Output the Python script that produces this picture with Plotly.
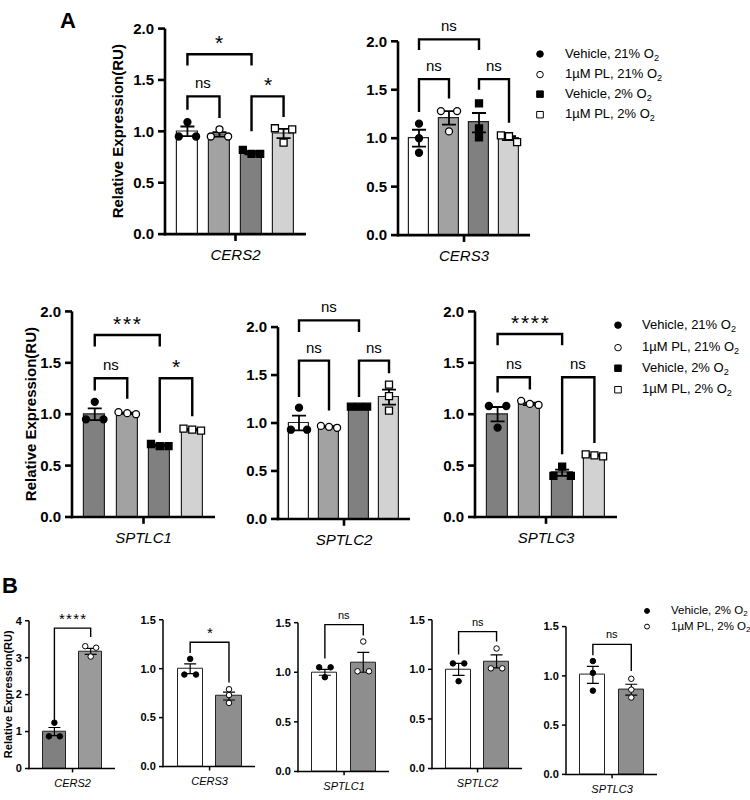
import plotly.graph_objects as go

W, H = 750, 800

# ---------------- data ----------------
a_genes = ["CERS2", "CERS3", "SPTLC1", "SPTLC2", "SPTLC3"]
a_groups = ["Vehicle, 21% O<sub>2</sub>", "1µM PL, 21% O<sub>2</sub>",
            "Vehicle, 2% O<sub>2</sub>", "1µM PL, 2% O<sub>2</sub>"]
a_means = [
    [1.00, 0.97, 0.79, 0.98],
    [1.00, 1.21, 1.16, 1.00],
    [1.00, 1.01, 0.70, 0.85],
    [1.00, 0.96, 1.17, 1.27],
    [1.00, 1.10, 0.43, 0.60],
]
a_sems = [
    [0.047, 0.022, 0.014, 0.045],
    [0.087, 0.070, 0.100, 0.020],
    [0.057, 0.006, 0.007, 0.006],
    [0.077, 0.006, 0.003, 0.078],
    [0.070, 0.012, 0.030, 0.006],
]
a_points = [
    [[1.09, 0.95, 0.95], [1.02, 0.95, 0.95], [0.82, 0.78, 0.78], [1.03, 1.02, 0.89]],
    [[1.15, 1.00, 0.85], [1.28, 1.28, 1.07], [1.36, 1.10, 1.01], [1.03, 1.02, 0.96]],
    [[1.12, 0.95, 0.95], [1.02, 1.01, 1.00], [0.71, 0.69, 0.69], [0.86, 0.85, 0.84]],
    [[1.16, 0.93, 0.93], [0.97, 0.96, 0.95], [1.17, 1.17, 1.17], [1.40, 1.28, 1.13]],
    [[1.08, 1.08, 0.87], [1.13, 1.10, 1.09], [0.49, 0.40, 0.40], [0.61, 0.60, 0.59]],
]
# (group i, group j, bracket height, label, left leg end, right leg end)
a_brackets = [
    [(0, 2, 1.75, "*", 1.64, 1.64), (0, 1, 1.34, "ns", 1.21, 1.13), (2, 3, 1.34, "*", 1.00, 1.14)],
    [(0, 2, 2.02, "ns", 1.91, 1.91), (0, 1, 1.61, "ns", 1.27, 1.41), (2, 3, 1.61, "ns", 1.50, 1.16)],
    [(0, 2, 1.77, "***", 1.66, 1.66), (0, 1, 1.35, "ns", 1.23, 1.15), (2, 3, 1.35, "*", 0.82, 0.98)],
    [(0, 2, 2.07, "ns", 1.95, 1.95), (0, 1, 1.65, "ns", 1.27, 1.13), (2, 3, 1.65, "ns", 1.27, 1.52)],
    [(0, 2, 1.78, "****", 1.67, 1.67), (0, 1, 1.36, "ns", 1.21, 1.24), (2, 3, 1.36, "ns", 0.61, 0.72)],
]

b_genes = ["CERS2", "CERS3", "SPTLC1", "SPTLC2", "SPTLC3"]
b_groups = ["Vehicle, 2% O<sub>2</sub>", "1µM PL, 2% O<sub>2</sub>"]
b_means = [[1.00, 3.17], [1.00, 0.72], [1.00, 1.10], [1.00, 1.08], [1.01, 0.86]]
b_sems = [[0.11, 0.08], [0.05, 0.04], [0.03, 0.10], [0.06, 0.065], [0.087, 0.055]]
b_points = [
    [[1.24, 0.87, 0.87], [3.31, 3.27, 3.03]],
    [[1.10, 0.94, 0.94], [0.79, 0.73, 0.65]],
    [[1.05, 1.05, 0.95], [1.31, 1.01, 1.01]],
    [[1.06, 1.06, 0.88], [1.21, 1.01, 1.01]],
    [[1.15, 1.03, 0.85], [0.97, 0.86, 0.78]],
]
b_brackets = [
    [(0, 1, 3.80, "****", 1.31, 3.56)],
    [(0, 1, 1.27, "*", 1.16, 0.86)],
    [(0, 1, 1.48, "ns", 1.14, 1.37)],
    [(0, 1, 1.38, "ns", 1.15, 1.28)],
    [(0, 1, 1.32, "ns", 1.21, 1.05)],
]
b_ymax = [4, 1.5, 1.5, 1.5, 1.5]
b_yticks = [[0, 1, 2, 3, 4], [0, 0.5, 1.0, 1.5], [0, 0.5, 1.0, 1.5], [0, 0.5, 1.0, 1.5], [0, 0.5, 1.0, 1.5]]

# ---------------- layout / style ----------------
WHITE, MID, DARK, LIGHT, MIDB = "#ffffff", "#a2a2a2", "#808080", "#d2d2d2", "#8e8e8e"
a_colors = [[WHITE, MID, DARK, LIGHT], [WHITE, MID, DARK, LIGHT], [DARK, MID, DARK, LIGHT],
            [WHITE, MID, DARK, LIGHT], [DARK, MID, DARK, LIGHT]]
b_colors = [[DARK, "#9a9a9a"], [WHITE, MIDB], [WHITE, MIDB], [WHITE, MIDB], [WHITE, MIDB]]
a_symbols = [("circle", "black"), ("circle", "white"), ("square", "black"), ("square", "white")]
b_symbols = [("circle", "black"), ("circle", "white")]

# pixel boxes: (left, right, bottom(y=0), top(y=max))
a_boxes = [(165, 306, 230, 20), (398, 530, 231, 33), (72, 215, 519, 309),
           (278, 410, 521, 325), (475, 617, 519, 309)]
b_boxes = [(29, 115, 776, 625), (163, 255, 774, 624), (298, 389, 779, 627),
           (432, 522, 776, 624), (566, 657, 782, 631)]

FONT = "Liberation Sans, Arial, sans-serif"
fig = go.Figure()
shapes, annotations = [], []


def offsets(vals, thr, step):
    order = sorted(range(len(vals)), key=lambda i: -vals[i])
    clusters, cur = [], [order[0]]
    for i in order[1:]:
        if abs(vals[cur[-1]] - vals[i]) < thr:
            cur.append(i)
        else:
            clusters.append(cur)
            cur = [i]
    clusters.append(cur)
    off = [0.0] * len(vals)
    for c in clusters:
        k = len(c)
        for r, i in enumerate(c):
            off[i] = (r - (k - 1) / 2) * step * (2 if k == 2 else 1)
    return off


def line(xa, ya, xb, yb, w):
    shapes.append(dict(type="line", xref="paper", yref="paper", x0=xa / W, x1=xb / W,
                       y0=1 - ya / H, y1=1 - yb / H, line=dict(color="black", width=w)))


def add_panel(k, box, gene, means, sems, pts, brackets, colors, symbols, ymax, yticks,
              big):
    n = len(means)
    xr = [-0.7, n - 1 + 0.67] if not big else [-0.7, n - 1 + 0.7]
    xn = "x" if k == 1 else f"x{k}"
    yn = "y" if k == 1 else f"y{k}"
    lw = 2.6 if big else 1.5
    tl = 7 if big else 4
    tick_fs = 15 if big else 11
    fmt = (lambda v: f"{v:.1f}") if ymax <= 2 else (lambda v: f"{v:g}")
    x0, x1, yb, yt = box
    fig.update_layout(**{
        ("xaxis" if k == 1 else f"xaxis{k}"): dict(
            domain=[x0 / W, x1 / W], range=xr, anchor=yn, showline=False,
            ticks="outside", ticklen=tl, tickcolor="rgba(0,0,0,0)",
            tickvals=[(n - 1) / 2], ticktext=[f"<i>{gene}</i>"],
            tickfont=dict(size=tick_fs, color="black"), showgrid=False, zeroline=False,
            fixedrange=True),
        ("yaxis" if k == 1 else f"yaxis{k}"): dict(
            domain=[1 - yb / H, 1 - yt / H], range=[0, ymax], anchor=xn, showline=False,
            ticks="outside", ticklen=tl, tickcolor="rgba(0,0,0,0)", tickvals=yticks,
            ticktext=[f"<b>{fmt(v)}</b>" for v in yticks],
            tickfont=dict(size=tick_fs, color="black"), showgrid=False, zeroline=False,
            fixedrange=True),
    })
    fig.add_trace(go.Bar(
        x=list(range(n)), y=means, width=0.65, xaxis=xn, yaxis=yn,
        marker=dict(color=colors, line=dict(color="#222222", width=1.2 if big else 1)),
        error_y=dict(type="data", array=sems, color="black",
                     thickness=1.8 if big else 1.2, width=7 if big else 6),
        showlegend=False, hoverinfo="skip"))
    thr = ymax * 0.035
    step = 0.27 if big else 0.15
    for g in range(n):
        off = offsets(pts[g], thr, step)
        sym, col = symbols[g]
        fig.add_trace(go.Scatter(
            x=[g + o for o in off], y=pts[g], mode="markers", xaxis=xn, yaxis=yn,
            marker=dict(symbol=sym, size=7 if big else 5.5, color=col,
                        line=dict(color="black", width=1.3 if big else 1)),
            cliponaxis=False, showlegend=False, hoverinfo="skip"))

    def px(v):
        return x0 + (v - xr[0]) / (xr[1] - xr[0]) * (x1 - x0)

    def py(v):
        return yb - v / ymax * (yb - yt)

    # axis lines and ticks
    line(x0, yb + lw / 2, x0, yt, lw)
    line(x0 - lw / 2, yb, x1, yb, lw)
    for v in yticks:
        line(x0 - tl, py(v), x0, py(v), lw)
    line(px((n - 1) / 2), yb, px((n - 1) / 2), yb + tl, lw)

    for (i, j, y, lab, l0, l1) in brackets:
        path = (f"M {px(i) / W},{1 - py(l0) / H} L {px(i) / W},{1 - py(y) / H} "
                f"L {px(j) / W},{1 - py(y) / H} L {px(j) / W},{1 - py(l1) / H}")
        shapes.append(dict(type="path", path=path, xref="paper", yref="paper",
                           line=dict(color="black", width=2.4 if big else 1.4)))
        star = lab.startswith("*")
        annotations.append(dict(
            x=(px(i) + px(j)) / 2 / W, y=1 - py(y) / H, xref="paper", yref="paper",
            text="\u200a".join(lab) if star else lab, showarrow=False,
            xanchor="center", yanchor="bottom",
            yshift=(-2 if star else 3) if big else (-1 if star else 2),
            font=dict(size=(21 if star else 15) if big else (15 if star else 11),
                      color="black", family=FONT)))


for idx in range(5):
    add_panel(idx + 1, a_boxes[idx], a_genes[idx], a_means[idx], a_sems[idx],
              a_points[idx], a_brackets[idx], a_colors[idx], a_symbols, 2.0,
              [0, 0.5, 1.0, 1.5, 2.0], True)
for idx in range(5):
    add_panel(idx + 6, b_boxes[idx], b_genes[idx], b_means[idx], b_sems[idx],
              b_points[idx], b_brackets[idx], b_colors[idx], b_symbols, b_ymax[idx],
              b_yticks[idx], False)

# legends: small marker shapes plus text, in paper space
for (mx, tx, ys, labels, syms, r, fs) in [
    (540, 563, [46, 67, 87, 108], a_groups, a_symbols, 3.3, 13),
    (618, 640, [323, 346, 367, 389], a_groups, a_symbols, 3.3, 13),
    (647, 669, [615, 631], b_groups, b_symbols, 2.5, 11.5),
]:
    for y, lab, (sym, col) in zip(ys, labels, syms):
        shapes.append(dict(type="circle" if sym == "circle" else "rect",
                           xref="paper", yref="paper",
                           x0=(mx - r) / W, x1=(mx + r) / W,
                           y0=1 - (y + r) / H, y1=1 - (y - r) / H,
                           fillcolor=col, line=dict(color="black", width=1)))
        annotations.append(dict(x=tx / W, y=1 - y / H, xref="paper", yref="paper", text=lab,
                                showarrow=False, xanchor="left", yanchor="middle",
                                font=dict(size=fs, color="black", family=FONT)))

# axis titles and panel letters
for (x, y, fs) in [(117, 125, 15), (30, 414, 15), (8, 700, 11)]:
    annotations.append(dict(x=x / W, y=1 - y / H, xref="paper", yref="paper",
                            text="<b>Relative Expression(RU)</b>", textangle=-90,
                            showarrow=False, xanchor="center", yanchor="middle",
                            font=dict(size=fs, color="black", family=FONT)))
for (x, y, lab) in [(68, 12, "A"), (10, 589, "B")]:
    annotations.append(dict(x=x / W, y=1 - y / H, xref="paper", yref="paper",
                            text=f"<b>{lab}</b>", showarrow=False, xanchor="center",
                            yanchor="middle", font=dict(size=22, color="black", family=FONT)))

fig.update_layout(
    width=W, height=H, margin=dict(l=0, r=0, t=0, b=0),
    paper_bgcolor="white", plot_bgcolor="white", showlegend=False,
    font=dict(family=FONT, color="black"),
    shapes=shapes, annotations=annotations, bargap=0,
)

fig.write_html("out.html", config={"displayModeBar": False},
               post_script="document.body.style.margin='0px';")
